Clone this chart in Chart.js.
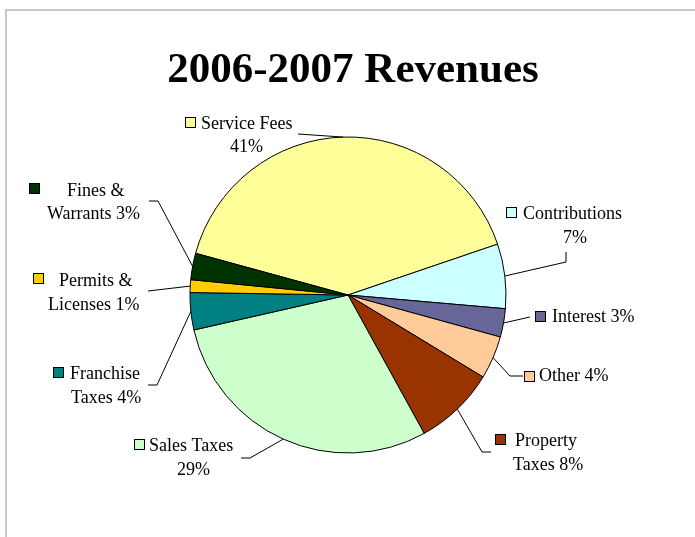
<!DOCTYPE html>
<html>
<head>
<meta charset="utf-8">
<script src="https://cdn.jsdelivr.net/npm/chart.js@4"></script>
<style>
html,body{margin:0;padding:0;background:#fff;}
#wrap{position:relative;width:695px;height:537px;}
</style>
</head>
<body>
<div id="wrap"><canvas id="c" width="695" height="537"></canvas></div>
<script>
// ---- data ----
const categories = ["Service Fees","Contributions","Interest","Other","Property Taxes","Sales Taxes","Franchise Taxes","Permits & Licenses","Fines & Warrants"];
const shares = [40.52, 6.6, 2.9, 4.4, 8.3, 29.45, 3.8, 1.3, 2.7];
const labelLines = [
  ["Service Fees","41%"],
  ["Contributions","7%"],
  ["Interest 3%"],
  ["Other 4%"],
  ["Property","Taxes 8%"],
  ["Sales Taxes","29%"],
  ["Franchise","Taxes 4%"],
  ["Permits &","Licenses 1%"],
  ["Fines &","Warrants 3%"]
];
const titleText = "2006-2007 Revenues";

// ---- styles / layout ----
const colors = ["#FFFF99","#CCFFFF","#666699","#FFCC99","#993300","#CCFFCC","#008080","#FFCC00","#003300"];
// per label: square [x,y], text line positions [[x,baseline],...], leader path points (after arc edge)
const labelLayout = [
  {sq:[185,117], pos:[[201,129],[230,152]], path:[[298,134]]},
  {sq:[506,207], pos:[[523,219],[563,243]], path:[[566,262],[566,252]]},
  {sq:[535,311], pos:[[552,322]], path:[[530,317]]},
  {sq:[524,371], pos:[[539,381]], path:[[510,376],[523,376]]},
  {sq:[495,434], pos:[[515,446],[513,470]], path:[[482,452],[491,452]]},
  {sq:[134,439], pos:[[149,451],[177,475]], path:[[250,458],[241,458]]},
  {sq:[53,367],  pos:[[70,379],[71,403]], path:[[157,385],[148,385]]},
  {sq:[33,273],  pos:[[59,286],[48,310]], path:[[148,291]]},
  {sq:[29,183],  pos:[[67,196],[47,219]], path:[[158,201],[149,201]]}
];

const decor = {
  id:'decor',
  beforeDraw(chart){
    const ctx = chart.ctx;
    ctx.save();
    ctx.fillStyle = '#fff';
    ctx.fillRect(0,0,chart.width,chart.height);
    ctx.strokeStyle = '#c8c8c8';
    ctx.lineWidth = 2;
    ctx.beginPath();
    ctx.moveTo(6,537); ctx.lineTo(6,10); ctx.lineTo(695,10);
    ctx.stroke();
    ctx.restore();
  },
  afterDraw(chart){
    const ctx = chart.ctx;
    const meta = chart.getDatasetMeta(0);
    ctx.save();
    // title
    ctx.fillStyle = '#000';
    ctx.font = 'bold 43px "Liberation Serif", "Times New Roman", serif';
    ctx.textAlign = 'center';
    ctx.textBaseline = 'alphabetic';
    ctx.fillText(titleText, 353, 82);
    // labels
    ctx.font = '18px "Liberation Serif", "Times New Roman", serif';
    ctx.textAlign = 'left';
    meta.data.forEach((arc, i) => {
      const L = labelLayout[i];
      const p = arc.getProps(['x','y','startAngle','endAngle','outerRadius'], true);
      const mid = (p.startAngle + p.endAngle) / 2;
      const ex = p.x + Math.cos(mid) * p.outerRadius;
      const ey = p.y + Math.sin(mid) * p.outerRadius;
      ctx.strokeStyle = '#000';
      ctx.lineWidth = 1;
      ctx.beginPath();
      ctx.moveTo(ex, ey);
      L.path.forEach(pt => ctx.lineTo(pt[0], pt[1]));
      ctx.stroke();
      // key square
      ctx.fillStyle = colors[i];
      ctx.fillRect(L.sq[0]+0.5, L.sq[1]+0.5, 10, 10);
      ctx.strokeRect(L.sq[0]+0.5, L.sq[1]+0.5, 10, 10);
      ctx.fillStyle = '#000';
      labelLines[i].forEach((t, k) => ctx.fillText(t, L.pos[k][0], L.pos[k][1]));
    });
    ctx.restore();
  }
};

new Chart(document.getElementById('c'), {
  type: 'pie',
  data: {
    labels: categories,
    datasets: [{
      data: shares,
      backgroundColor: colors,
      borderColor: '#000',
      borderWidth: 1
    }]
  },
  options: {
    responsive: false,
    animation: false,
    rotation: 285.3,
    radius: 158,
    layout: { padding: { top: 137, bottom: 84, left: 190, right: 189 } },
    plugins: {
      legend: { display: false },
      title: { display: false },
      tooltip: { enabled: false }
    }
  },
  plugins: [decor]
});
</script>
</body>
</html>
